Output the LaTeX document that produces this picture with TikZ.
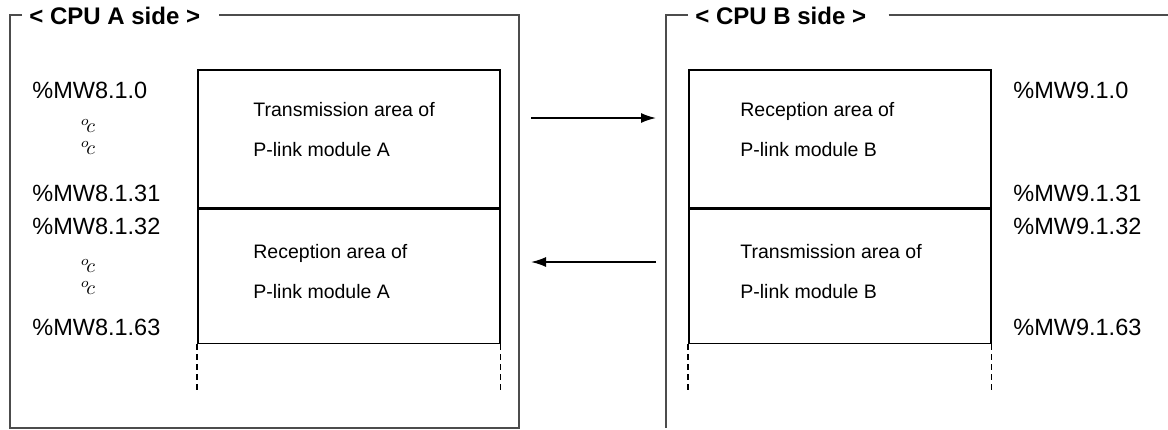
\documentclass[tikz,border=0pt]{standalone}
\usepackage{fontspec}
\setmainfont{Liberation Sans}
\usetikzlibrary{arrows.meta,positioning}
\tikzset{%
	frame/.style    = {draw=black!70, line width=0.6pt},
	area/.style     = {draw, rectangle, line width=0.8pt, minimum width=151pt, minimum height=69pt, inner sep=0pt},
	areatext/.style = {anchor=west, align=left, inner sep=0pt, font=\fontsize{9.75}{20}\selectfont},
	addr/.style     = {anchor=west, inner sep=0pt, font=\fontsize{11.75}{13}\selectfont},
	vdots/.style    = {inner sep=0pt, font=\fontsize{10}{12}\selectfont},
	title/.style    = {anchor=base west, inner sep=0pt, font=\bfseries\fontsize{12}{14}\selectfont},
	cont/.style     = {line width=0.6pt, dash pattern=on 3pt off 2pt},
	arrow/.style    = {line width=0.8pt, -{Latex[length=7.5pt,width=5pt]}},
}
\begin{document}
\begin{tikzpicture}[x=0.5pt,y=-0.5pt]
	\useasboundingbox (0,0) rectangle (1168,429);
	
	% CPU A side
	\node[title] (titleA) at (29,24) {< CPU A side >};
	\draw[frame] ([xshift=-3.5pt]titleA.west |- 0,15) -- (10,15) -- (10,428) -- (519,428) -- (519,15) -- ([xshift=9pt]titleA.east |- 0,15);
	\node[area, anchor=north west] (txA) at (197,69) {};
	\node[area, minimum height=67pt, below=0pt of txA] (rxA) {};
	\draw[cont] (rxA.south west) -- ++(0,49);
	\draw[cont] (rxA.south east) -- ++(0,49);
	\node[areatext] (txAtext) at (253,130) {Transmission area of\\P-link module A};
	\node[areatext] (rxAtext) at (253,272) {Reception area of\\P-link module A};
	\node[addr] (a0)  at (32,90)  {\%MW8.1.0};
	\node[vdots] (a0d1) at (88,126) {$^{o}\!c$};
	\node[vdots] (a0d2) at (88,148) {$^{o}\!c$};
	\node[addr] (a31) at (32,193) {\%MW8.1.31};
	\node[addr] (a32) at (32,226) {\%MW8.1.32};
	\node[vdots] (a32d1) at (88,266) {$^{o}\!c$};
	\node[vdots] (a32d2) at (88,288) {$^{o}\!c$};
	\node[addr] (a63) at (32,327) {\%MW8.1.63};
	
	% CPU B side
	\node[title] (titleB) at (695,24) {< CPU B side >};
	\draw[frame] ([xshift=-3.5pt]titleB.west |- 0,15) -- (666,15) -- (666,428);
	\draw[frame] ([xshift=11pt]titleB.east |- 0,15) -- (1168,15);
	\node[area, anchor=north west] (rxB) at (688,69) {};
	\node[area, minimum height=67pt, below=0pt of rxB] (txB) {};
	\draw[cont] (txB.south west) -- ++(0,49);
	\draw[cont] (txB.south east) -- ++(0,49);
	\node[areatext] (rxBtext) at (740,130) {Reception area of\\P-link module B};
	\node[areatext] (txBtext) at (740,272) {Transmission area of\\P-link module B};
	\node[addr] (b0)  at (1013,90)  {\%MW9.1.0};
	\node[addr] (b31) at (1013,193) {\%MW9.1.31};
	\node[addr] (b32) at (1013,226) {\%MW9.1.32};
	\node[addr] (b63) at (1013,327) {\%MW9.1.63};
	
	% data flow
	\coordinate (sendA) at (531,118);
	\coordinate (recvB) at (656,118);
	\coordinate (sendB) at (656,262);
	\coordinate (recvA) at (531,262);
	\draw[arrow] (sendA) -- (recvB);
	\draw[arrow] (sendB) -- (recvA);
	
\end{tikzpicture}
\end{document}
